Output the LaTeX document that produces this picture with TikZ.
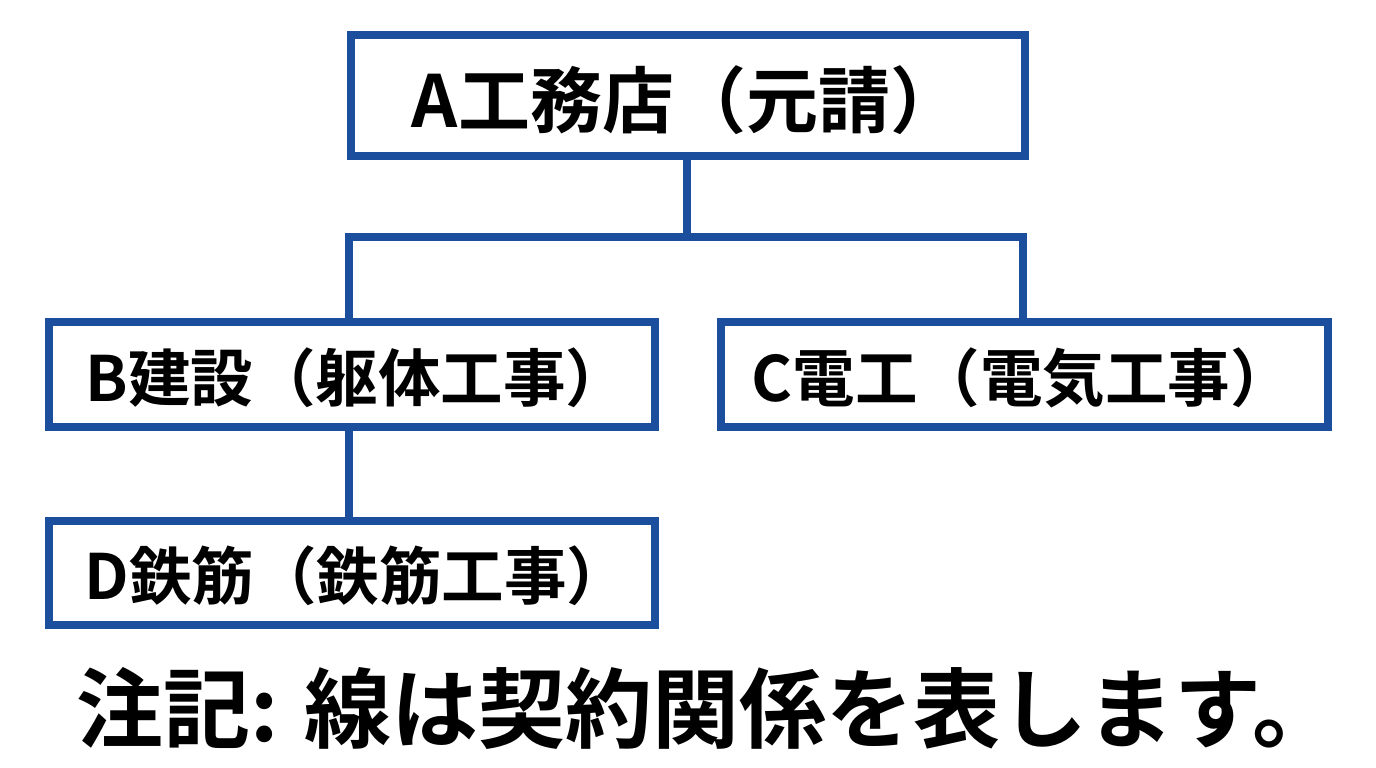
\documentclass[tikz,border=0pt]{standalone}
\usepackage{fontspec}
\setmainfont{Noto Sans CJK JP}[BoldFont={Noto Sans CJK JP Bold}]
\begin{document}
\begin{tikzpicture}[x=1pt,y=-1pt,
  box/.style={draw=boxblue,line width=8pt,fill=white,inner sep=0pt,font=\bfseries},
  conn/.style={draw=boxblue,line width=8pt}]
\definecolor{boxblue}{HTML}{1B4F9E}
\useasboundingbox[fill=white] (0,0) rectangle (1376,768);
\coordinate (j) at (687,237);
\draw[conn] (687,100) -- (j);
\draw[conn] (349,374) |- (j) -| (1023,374);
\draw[conn] (349,374) -- (349,572);
\node[box,minimum width=674,minimum height=120] (A) at (687.5,95.5) {};
\node[font=\bfseries\fontsize{72}{82}\selectfont] (At) at (687,100) {A工務店（元請）};
\node[box,minimum width=606,minimum height=105] (B) at (351.5,374) {};
\node[font=\bfseries\fontsize{62.5}{72}\selectfont] (Bt) at (357,378) {B建設（躯体工事）};
\node[box,minimum width=607,minimum height=105] (C) at (1024,374) {};
\node[font=\bfseries\fontsize{62.5}{72}\selectfont] (Ct) at (1022,378) {C電工（電気工事）};
\node[box,minimum width=606,minimum height=104] (D) at (351.5,572.5) {};
\node[font=\bfseries\fontsize{62.5}{72}\selectfont] (Dt) at (357,576) {D鉄筋（鉄筋工事）};
\node[font=\bfseries\fontsize{87}{97}\selectfont] (N) at (708,708) {注記: 線は契約関係を表します。};
\end{tikzpicture}
\end{document}
